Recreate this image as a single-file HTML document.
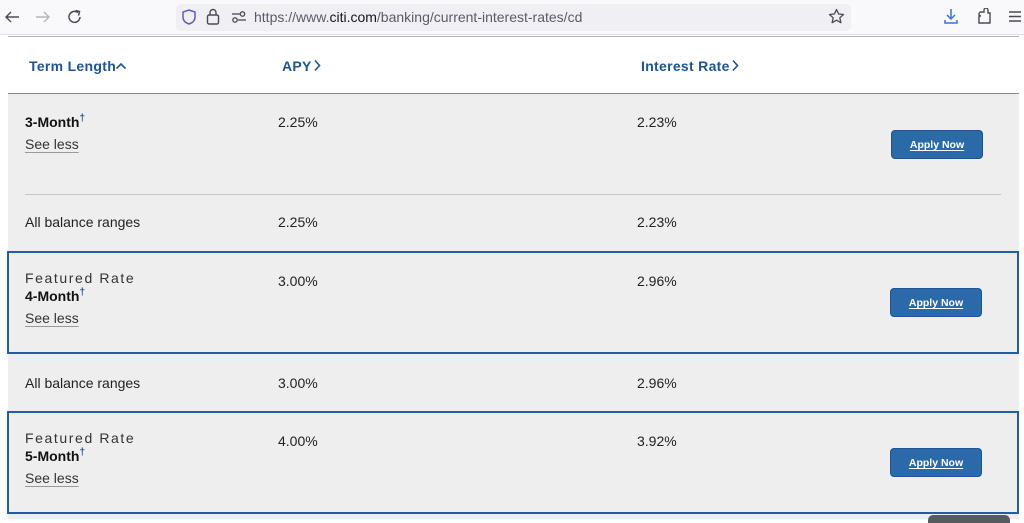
<!DOCTYPE html>
<html><head><meta charset="utf-8">
<style>
*{margin:0;padding:0;box-sizing:border-box}
body{width:1024px;height:519px;overflow:hidden;background:#fff;font-family:"Liberation Sans",Arial,sans-serif;position:relative}
.a{position:absolute;white-space:nowrap}
.t{font-size:14px;line-height:18px;color:#222}
.h{font-size:14px;line-height:18px;color:#1c5596;font-weight:bold;letter-spacing:0.3px}
.b{font-weight:bold;color:#111}
.sl{color:#333;text-decoration:underline;text-decoration-color:#999;text-underline-offset:3px}
.fr{letter-spacing:1.6px;color:#333}
.sup{color:#1c5596;font-size:10px;position:relative;top:-6px;font-weight:bold}
.btn{position:absolute;width:92px;height:29px;background:#2a6aa8;border:1px solid #1d5592;border-radius:4px;color:#fff;font-size:10.5px;font-weight:bold;text-align:center;line-height:28px;text-decoration:underline;text-underline-offset:2px}
.box{position:absolute;left:7px;width:1012px;border:2px solid #225da2}
</style></head><body>
<!-- toolbar -->
<div class="a" style="left:0;top:0;width:1024px;height:35px;background:#f9f9fb;border-bottom:1px solid #e0e0e6"></div>
<div class="a" style="left:176px;top:4px;width:675px;height:27px;background:#f0f0f4;border-radius:5px"></div>
<svg class="a" style="left:4px;top:10px" width="16" height="14" viewBox="0 0 16 14"><path d="M15 7 H2 M7 2 L2 7 L7 12" fill="none" stroke="#4a4a55" stroke-width="1.4"/></svg>
<svg class="a" style="left:35px;top:10px" width="16" height="14" viewBox="0 0 16 14"><path d="M1 7 H14 M9 2 L14 7 L9 12" fill="none" stroke="#b5b5bc" stroke-width="1.4"/></svg>
<svg class="a" style="left:67px;top:9px" width="16" height="16" viewBox="0 0 16 16"><path d="M13 8 A5.5 5.5 0 1 1 11 3.6" fill="none" stroke="#4a4a55" stroke-width="1.5"/><path d="M8.5 1.5 L12.5 2.5 L11.5 6.5" fill="none" stroke="#4a4a55" stroke-width="1.5"/></svg>
<svg class="a" style="left:182px;top:9px" width="14" height="16" viewBox="0 0 14 16"><path d="M7 1 L13 3 V8 C13 12 10 14 7 15 C4 14 1 12 1 8 V3 Z" fill="none" stroke="#5b5bd6" stroke-width="1.5"/></svg>
<svg class="a" style="left:206px;top:8px" width="14" height="17" viewBox="0 0 14 17"><rect x="1.5" y="7" width="11" height="9" rx="1.5" fill="none" stroke="#4a4a55" stroke-width="1.4"/><path d="M4 7 V4.5 A3 3 0 0 1 10 4.5 V7" fill="none" stroke="#4a4a55" stroke-width="1.4"/></svg>
<svg class="a" style="left:231px;top:10px" width="16" height="14" viewBox="0 0 16 14"><line x1="1" y1="4" x2="9" y2="4" stroke="#4a4a55" stroke-width="1.3"/><circle cx="11.5" cy="4" r="2.2" fill="none" stroke="#4a4a55" stroke-width="1.3"/><line x1="7" y1="10" x2="15" y2="10" stroke="#4a4a55" stroke-width="1.3"/><circle cx="4" cy="10" r="2.2" fill="none" stroke="#4a4a55" stroke-width="1.3"/></svg>
<div class="a" style="left:254px;top:9px;font-size:14px;line-height:17px;color:#5b5b66">https://www.<span style="color:#15141a">citi.com</span>/banking/current-interest-rates/cd</div>
<svg class="a" style="left:828px;top:8px" width="17" height="17" viewBox="0 0 17 17"><path d="M8.5 1.5 L10.6 6 L15.5 6.5 L11.8 9.8 L12.9 14.7 L8.5 12.2 L4.1 14.7 L5.2 9.8 L1.5 6.5 L6.4 6 Z" fill="none" stroke="#4a4a55" stroke-width="1.3" stroke-linejoin="round"/></svg>
<svg class="a" style="left:943px;top:8px" width="16" height="17" viewBox="0 0 16 17"><path d="M8 1 V11 M4 7 L8 11 L12 7" fill="none" stroke="#3b6fe0" stroke-width="1.5"/><path d="M2 12 V15 H14 V12" fill="none" stroke="#3b6fe0" stroke-width="1.5"/></svg>
<svg class="a" style="left:976px;top:8px" width="16" height="17" viewBox="0 0 16 17"><path d="M3 15 V8 H5 A2 2 0 0 1 5 4 H8 V2 A2 2 0 0 1 12 2 V5 H14 V15 Z" fill="none" stroke="#4a4a55" stroke-width="1.4"/></svg>
<svg class="a" style="left:1008px;top:10px" width="14" height="13" viewBox="0 0 14 13"><path d="M1 2 H13 M1 6.5 H13 M1 11 H13" stroke="#4a4a55" stroke-width="1.4"/></svg>

<div class="a" style="left:8px;top:36px;width:1011px;height:1px;background:#b4b4b4"></div>

<!-- header -->
<div class="a h" style="left:29px;top:57px">Term Length</div>
<svg class="a" style="left:115px;top:61px" width="12" height="10" viewBox="0 0 12 10"><path d="M1.5 7.5 L6 3 L10.5 7.5" fill="none" stroke="#1c5596" stroke-width="1.6"/></svg>
<div class="a h" style="left:282px;top:57px">APY</div>
<svg class="a" style="left:313px;top:59px" width="8" height="13" viewBox="0 0 8 13"><path d="M2 1.5 L6.5 6.5 L2 11.5" fill="none" stroke="#1c5596" stroke-width="1.6"/></svg>
<div class="a h" style="left:641px;top:57px">Interest Rate</div>
<svg class="a" style="left:731px;top:59px" width="8" height="13" viewBox="0 0 8 13"><path d="M2 1.5 L6.5 6.5 L2 11.5" fill="none" stroke="#1c5596" stroke-width="1.6"/></svg>
<div class="a" style="left:8px;top:93px;width:1011px;height:1px;background:#8a8a8a"></div>

<!-- gray area -->
<div class="a" style="left:8px;top:94px;width:1011px;height:425px;background:#eeeeee"></div>

<!-- row 3-month -->
<div class="a t" style="left:25px;top:113px"><span class="b">3-Month</span><span class="sup">&#8224;</span></div>
<div class="a t sl" style="left:25px;top:135px">See less</div>
<div class="a t" style="left:278px;top:113px">2.25%</div>
<div class="a t" style="left:637px;top:113px">2.23%</div>
<div class="btn" style="left:891px;top:130px">Apply Now</div>
<div class="a" style="left:25px;top:194px;width:976px;height:1px;background:#c6c6c6"></div>
<div class="a t" style="left:25px;top:213px">All balance ranges</div>
<div class="a t" style="left:278px;top:213px">2.25%</div>
<div class="a t" style="left:637px;top:213px">2.23%</div>

<!-- featured 4-month -->
<div class="box" style="top:251px;height:103px"></div>
<div class="a t fr" style="left:25px;top:269px">Featured Rate</div>
<div class="a t" style="left:25px;top:287px"><span class="b">4-Month</span><span class="sup">&#8224;</span></div>
<div class="a t sl" style="left:25px;top:309px">See less</div>
<div class="a t" style="left:278px;top:272px">3.00%</div>
<div class="a t" style="left:637px;top:272px">2.96%</div>
<div class="btn" style="left:890px;top:288px">Apply Now</div>
<div class="a t" style="left:25px;top:374px">All balance ranges</div>
<div class="a t" style="left:278px;top:374px">3.00%</div>
<div class="a t" style="left:637px;top:374px">2.96%</div>

<!-- featured 5-month -->
<div class="box" style="top:411px;height:103px"></div>
<div class="a t fr" style="left:25px;top:429px">Featured Rate</div>
<div class="a t" style="left:25px;top:447px"><span class="b">5-Month</span><span class="sup">&#8224;</span></div>
<div class="a t sl" style="left:25px;top:469px">See less</div>
<div class="a t" style="left:278px;top:432px">4.00%</div>
<div class="a t" style="left:637px;top:432px">3.92%</div>
<div class="btn" style="left:890px;top:448px">Apply Now</div>

<div class="a" style="left:928px;top:515px;width:82px;height:8px;background:#5a5a5a;border-radius:5px 5px 0 0"></div>
</body></html>
